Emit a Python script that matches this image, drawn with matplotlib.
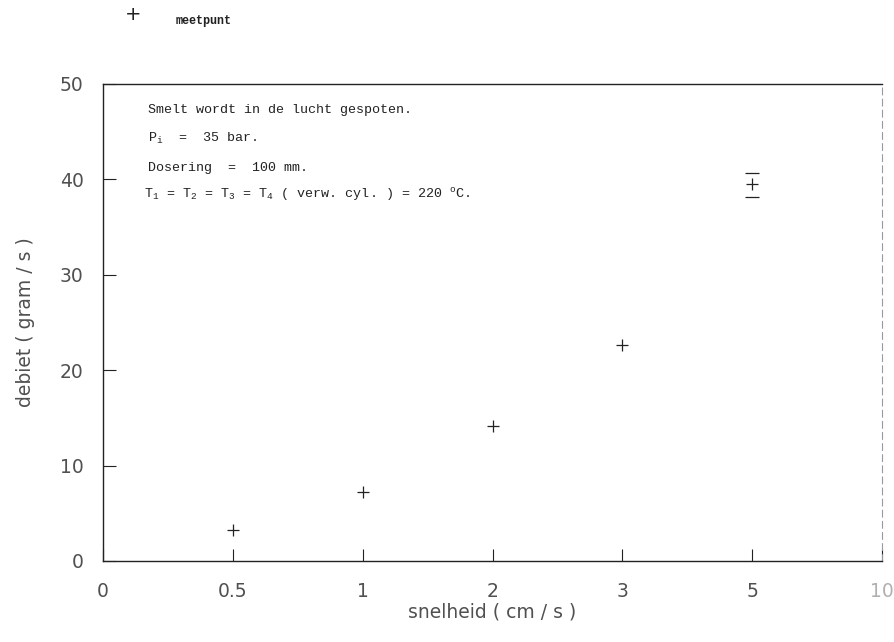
import matplotlib
matplotlib.use("Agg")
import matplotlib.pyplot as plt

# categorical x axis (equally spaced ticks)
x_labels = ["0", "0.5", "1", "2", "3", "5", "10"]
y_ticks = [0, 10, 20, 30, 40, 50]

# measurements
snelheid = ["0.5", "1", "2", "3", "5"]
debiet = [3.2, 7.2, 14.2, 22.6, 39.5]
debiet_min = [3.2, 7.2, 14.2, 22.6, 38.2]
debiet_max = [3.2, 7.2, 14.2, 22.6, 40.7]

notes = [
    "Smelt wordt in de lucht gespoten.",
    r"P$_\mathregular{i}$  =  35 bar.",
    "Dosering  =  100 mm.",
    r"T$_\mathregular{1}$ = T$_\mathregular{2}$ = T$_\mathregular{3}$ = "
    r"T$_\mathregular{4}$ ( verw. cyl. ) = 220 $^\mathregular{o}$C.",
]

AX_FONT = ["DejaVu Sans"]
NOTE_FONT = ["Liberation Mono", "DejaVu Sans Mono"]
INK = "#222222"
LABEL_INK = "#505050"

fig = plt.figure(figsize=(8.95, 6.42), dpi=100)
ax = fig.add_axes([0.1151, 0.1262, 0.8704, 0.743])

xpos = [x_labels.index(v) for v in snelheid]
ax.plot(xpos[:-1], debiet[:-1], linestyle="none", marker="+",
        markersize=8, markeredgewidth=0.9, color=INK)

# spread at the last point: cap marks above and below
lo = [d - m for d, m in zip(debiet, debiet_min)]
hi = [m - d for d, m in zip(debiet, debiet_max)]
ax.errorbar(xpos[-1:], debiet[-1:], yerr=[lo[-1:], hi[-1:]], fmt="+",
            markersize=8, markeredgewidth=0.9, color=INK,
            elinewidth=0, capsize=5, capthick=1.2)

ax.set_xlim(0, len(x_labels) - 1)
ax.set_ylim(0, 50)
ax.set_xticks(range(len(x_labels)))
ax.set_xticklabels(x_labels)
ax.set_yticks(y_ticks)
ax.tick_params(direction="in", length=9, width=0.8, colors=INK,
               labelcolor=LABEL_INK, labelsize=13.5, pad=14)
ax.tick_params(axis="x", pad=15)
for lbl in ax.get_xticklabels() + ax.get_yticklabels():
    lbl.set_family(AX_FONT)
ax.get_xticklabels()[-1].set_color("#b0b0b0")

for side in ["left", "bottom", "top"]:
    ax.spines[side].set_color(INK)
    ax.spines[side].set_linewidth(1.0)
ax.spines["right"].set_color("#999999")
ax.spines["right"].set_linestyle((0, (6, 4)))
ax.spines["right"].set_linewidth(0.8)

ax.set_xlabel("snelheid ( cm / s )", family=AX_FONT,
              fontsize=13.5, color=LABEL_INK, labelpad=1)
ax.set_ylabel("debiet ( gram / s )", family=AX_FONT,
              fontsize=13.5, color=LABEL_INK, labelpad=18)

# notes inside the plot
note_y = [0.945, 0.886, 0.824, 0.768]
note_x = [0.058, 0.058, 0.058, 0.053]
for txt, nx, ny in zip(notes, note_x, note_y):
    ax.text(nx, ny, txt, transform=ax.transAxes, family=NOTE_FONT,
            fontsize=9.6, color=INK, va="center", ha="left")

# legend at the top
fig.text(133 / 895, 1 - 15 / 642, "+", fontsize=14, color=INK,
         ha="center", va="center", family=AX_FONT)
fig.text(176 / 895, 1 - 21 / 642, "meetpunt", fontsize=8.5, color=INK,
         ha="left", va="center", family=NOTE_FONT, fontweight="bold")

fig.savefig("out.png", dpi=100)
